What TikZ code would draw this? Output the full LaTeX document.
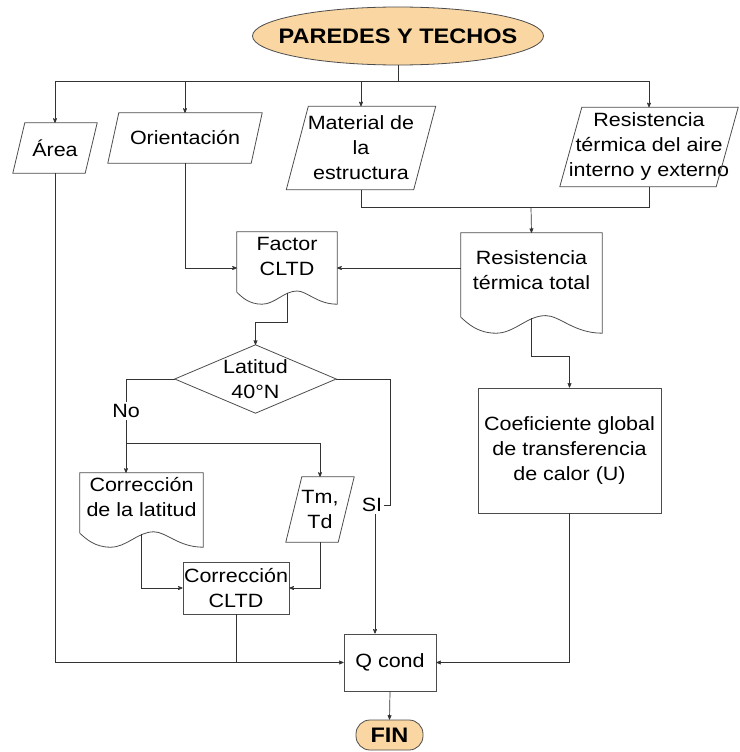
\documentclass[tikz,border=0pt]{standalone}
\usepackage{fontspec}
\setmainfont{Liberation Sans}[FakeStretch=1.12]
\usetikzlibrary{shapes,arrows,calc}
\definecolor{termfill}{RGB}{250,214,162}
\newcommand\parabox[2]{\draw[outl] ($(#1.north west)+(#2,0)$) -- (#1.north east) -- ($(#1.south east)-(#2,0)$) -- (#1.south west) -- cycle;}
\newcommand\docbox[3]{\draw[outl] ($(#1.south west)+(0,#2)$) -- (#1.north west) -- (#1.north east) -- ($(#1.south east)+(0,#2+#3)$)
	.. controls ($(#1.south west)!.8!(#1.south east)+(0,#2+#3)$) and ($(#1.south west)!.7!(#1.south east)+(0,#2-.1*#3)$) .. ($(#1.south west)!.6!(#1.south east)+(0,#2-.1*#3)$)
	.. controls ($(#1.south west)!.47!(#1.south east)+(0,#2-.1*#3)$) and ($(#1.south west)!.38!(#1.south east)+(0,#2+#3)$) .. ($(#1.south west)!.25!(#1.south east)+(0,#2+#3)$)
	.. controls ($(#1.south west)!.12!(#1.south east)+(0,#2+#3)$) and ($(#1.south west)!.05!(#1.south east)+(0,#2+.4*#3)$) .. ($(#1.south west)+(0,#2)$);
	\coordinate (#1-out) at ($(#1.south)+(0,#2+1)$);}
\begin{document}
\begin{tikzpicture}[x=1pt,y=-1pt,>=stealth',
	every node/.style={font=\fontsize{19.2}{25}\selectfont},
	plain/.style={align=center,inner sep=1pt},
	box/.style={plain,draw=black!70,line width=.8pt},
	outl/.style={draw=black!70,line width=.8pt},
	term/.style={draw=black!70,fill=termfill,line width=.8pt,font=\fontsize{21}{25}\bfseries},
	line/.style={draw=black!80,line width=.7pt}]
	\useasboundingbox (0,0) rectangle (739,752);
	
	\node[term,ellipse,inner xsep=-18pt,inner ysep=0pt,minimum width=291pt,minimum height=58pt] (top) at (398,36) {PAREDES Y TECHOS};
	\coordinate (bus) at (398,81);
	\draw[line] (top.south) -- (bus);
	
	\foreach \n/\x/\y/\w/\h/\s/\t in {area/55/148/84/50/12/Área, ori/185/138/154/50/11/Orientación, mat/361/148/149/83/22/{Material de\\la\\estructura}, res/649/147/178/79/22/{Resistencia\\térmica del aire\\interno y externo}}{
		\node[plain,minimum width=\w pt,minimum height=\h pt] (\n) at (\x,\y) {\t};
		\parabox{\n}{\s}
		\draw[line,->] (bus) -| (\n.north);
	}
	
	\coordinate (join) at (531,207);
	\draw[line] (mat.south) |- (join);
	\draw[line] (res.south) |- (join);
	
	\node[plain,minimum width=141pt,minimum height=74pt] (rtot) at (531.5,270) {Resistencia\\térmica total};
	\docbox{rtot}{10}{16}
	\draw[line,->] (join) -- (rtot.north);
	
	\node[plain,minimum width=100pt,minimum height=48pt] (fac) at (287,256) {Factor\\CLTD};
	\docbox{fac}{12}{12}
	\coordinate (facin) at (287,268);
	\draw[line,->] (ori.south) |- (facin -| fac.west);
	\draw[line,->] (rtot.west |- facin) -- (facin -| fac.east);
	
	\node[plain,minimum width=161pt,minimum height=68pt] (lat) at (255.5,379) {Latitud\\40°N};
	\draw[outl] (lat.north) -- (lat.east) -- (lat.south) -- (lat.west) -- cycle;
	\draw[line,->] (fac-out) -- ++(0,29) -| (lat.north);
	
	\coordinate (nosplit) at (126,443);
	\draw[line] (lat.west) -| (nosplit) node[pos=.75,fill=white,inner sep=2pt] {No};
	
	\node[plain,minimum width=123pt,minimum height=48pt] (corlat) at (141.5,497) {Corrección\\de la latitud};
	\docbox{corlat}{12}{14}
	\draw[line,->] (nosplit) -- (nosplit |- corlat.north);
	
	\node[plain,minimum width=68pt,minimum height=65pt] (tmtd) at (320,509.5) {Tm,\\Td};
	\parabox{tmtd}{16}
	\draw[line,->] (nosplit) -| (tmtd.north);
	
	\node[box,minimum width=100pt,minimum height=52pt] (ccltd) at (236,588) {Corrección\\CLTD};
	\draw[line,->] (corlat-out) |- (ccltd.west);
	\draw[line,->] (tmtd.south) |- (ccltd.east);
	
	\node[box,minimum width=183pt,minimum height=125pt] (coef) at (569.5,450.5) {Coeficiente global\\de transferencia\\de calor (U)};
	\draw[line,->] (rtot-out) -- ++(0,38) -| (coef.north);
	
	\node[box,minimum width=92pt,minimum height=57pt] (q) at (390,662.5) {Q cond};
	\coordinate (sipt) at (375,505);
	\draw[line,->] (lat.east) -| ($(sipt)+(15,0)$) -- (sipt) -- (sipt |- q.north);
	\node[fill=white,inner sep=2pt] (si) at ($(sipt)+(-3,0)$) {SI};
	
	\draw[line,->] (area.south) |- (q.west);
	\draw[line] (ccltd.south) -- (ccltd.south |- q.west);
	\draw[line,->] (coef.south) |- (q.east);
	
	\node[term,rounded corners=14pt,minimum width=67pt,minimum height=30pt] (fin) at (389.5,735) {FIN};
	\draw[line,->] (q.south) -- (fin.north);
\end{tikzpicture}
\end{document}
